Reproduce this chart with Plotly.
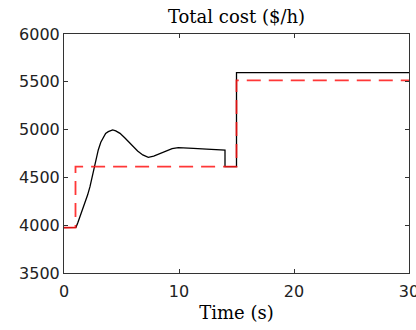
import plotly.graph_objects as go

# Black curve: total cost (actual)
t_actual = [0, 1.04, 1.2, 1.39, 1.6, 1.83, 2.05, 2.26, 2.45, 2.61, 2.8, 2.98, 3.2, 3.42, 3.62,
            3.85, 4.05, 4.23, 4.5, 4.87, 5.3, 5.74, 6.03, 6.4, 6.85, 7.33, 7.8, 8.35, 8.9, 9.4,
            9.94, 10.5, 11.25, 12.4, 13.57, 14.0, 14.0, 15.0, 15.0, 30]
cost_actual = [3975, 3978, 4025, 4089, 4157, 4229, 4315, 4403, 4505, 4606, 4705, 4787, 4868, 4926,
               4960, 4978, 4991, 4996, 4987, 4961, 4912, 4857, 4821, 4776, 4735, 4710, 4722, 4752,
               4782, 4801, 4811, 4811, 4804, 4795, 4787, 4785, 4612, 4612, 5597, 5597]

# Red dashed: total cost (reference / optimal)
t_ref = [0, 1.0, 1.0, 15.0, 15.0, 30]
cost_ref = [3975, 3975, 4612, 4612, 5515, 5515]

x_ticks = [0, 10, 20, 30]
y_ticks = [3500, 4000, 4500, 5000, 5500, 6000]

fig = go.Figure()
fig.add_trace(go.Scatter(x=t_actual, y=cost_actual, mode="lines",
                         line=dict(color="black", width=1.3), showlegend=False))
fig.add_trace(go.Scatter(x=t_ref, y=cost_ref, mode="lines",
                         line=dict(color="rgba(255,20,20,0.85)", width=1.8, dash="14px,8px"),
                         showlegend=False))

serif = "DejaVu Serif"
sans = "DejaVu Sans"

fig.update_layout(
    width=416, height=330,
    margin=dict(l=64, r=7, t=34, b=57),
    paper_bgcolor="white", plot_bgcolor="white",
    title=dict(text="Total cost ($/h)", x=0.5685, xanchor="center", y=0.948, yanchor="middle",
               font=dict(family=serif, size=18, color="black")),
    xaxis=dict(range=[0, 30], tickvals=x_ticks, ticks="inside", ticklen=4, tickcolor="#333",
               showline=True, linecolor="#333", linewidth=1, mirror="allticks",
               showgrid=False, zeroline=False, ticklabeloverflow="allow", automargin=False,
               ticklabelstandoff=4,
               tickfont=dict(family=sans, size=16, color="#222"),
               title=dict(text="Time (s)", font=dict(family=serif, size=18, color="black"), standoff=6)),
    yaxis=dict(range=[3500, 6000], tickvals=y_ticks, ticks="inside", ticklen=4, tickcolor="#333",
               showline=True, linecolor="#333", linewidth=1, mirror="allticks",
               showgrid=False, zeroline=False, ticklabeloverflow="allow", automargin=False,
               tickfont=dict(family=sans, size=16, color="#222")),
)

fig.write_html("out.html")
